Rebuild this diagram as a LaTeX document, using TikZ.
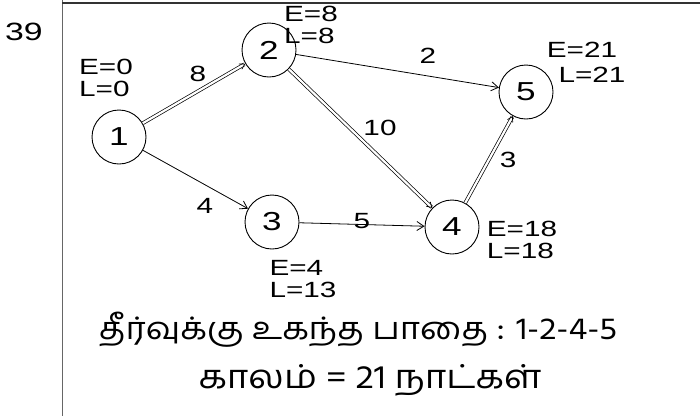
\documentclass[tikz,border=0pt]{standalone}
\usepackage{fontspec}
\setmainfont{Liberation Sans}
\newfontfamily\hand{Liberation Sans}[FakeStretch=1.35]
\newfontfamily\tamilfont[Script=Tamil,FakeStretch=1.12]{Hind Madurai}
\usetikzlibrary{arrows.meta}
\begin{document}
\begin{tikzpicture}[x=1pt,y=-1pt,
  ev/.style={circle,draw,line width=0.9pt,minimum size=54pt,inner sep=0pt,font=\hand\fontsize{26}{26}\selectfont},
  act/.style={line width=0.8pt,-{Straight Barb[length=7pt,width=9pt]}},
  crit/.style={double,double distance=2.2pt,line width=0.7pt,-{Straight Barb[length=5pt,width=6pt]}},
  wt/.style={font=\hand\fontsize{22}{22}\selectfont},
  el/.style={font=\hand\fontsize{22}{22}\selectfont,align=left,inner sep=0pt},
  tam/.style={inner sep=0pt}]
\useasboundingbox (0,0) rectangle (700,416);
\fill[white] (0,0) rectangle (700,416);
\draw[line width=0.8pt,black!60] (62,0) -- (62,416);
\draw[line width=1.4pt,black!80] (62,3) -- (700,3);
\node[font=\hand\fontsize{25}{25}\selectfont] (num) at (24,32) {39};
\node[ev] (n1) at (119,137) {1};
\node[ev] (n2) at (269,50) {2};
\node[ev] (n3) at (272,222) {3};
\node[ev] (n4) at (452,227) {4};
\node[ev] (n5) at (526,92) {5};
\draw[crit] (n1) -- (n2);
\draw[crit] (n2) -- (n4);
\draw[crit] (n4) -- (n5);
\draw[act] (n2) -- (n5);
\draw[act] (n1) -- (n3);
\draw[act] (n3) -- (n4);
\node[wt] (w12) at (198,74) {8};
\node[wt] (w25) at (428,56) {2};
\node[wt] (w24) at (380,128) {10};
\node[wt] (w13) at (205,206) {4};
\node[wt] (w34) at (362,221) {5};
\node[wt] (w45) at (508,160) {3};
\node[el] (l1) at (106,78) {E=0\\L=0};
\node[el] (l2) at (311,25) {E=8\\L=8};
\node[el] (l5e) at (582,50) {E=21};
\node[el] (l5l) at (592,75) {L=21};
\node[el] (l4) at (522,240) {E=18\\L=18};
\node[el] (l3) at (303,279) {E=4\\L=13};
\node[tam,font=\tamilfont\fontsize{31}{31}\selectfont] (t1) at (358,330) {தீர்வுக்கு உகந்த பாதை : 1-2-4-5};
\node[tam,font=\tamilfont\fontsize{33}{33}\selectfont] (t2) at (370,380) {காலம் = 21 நாட்கள்};
\end{tikzpicture}
\end{document}
